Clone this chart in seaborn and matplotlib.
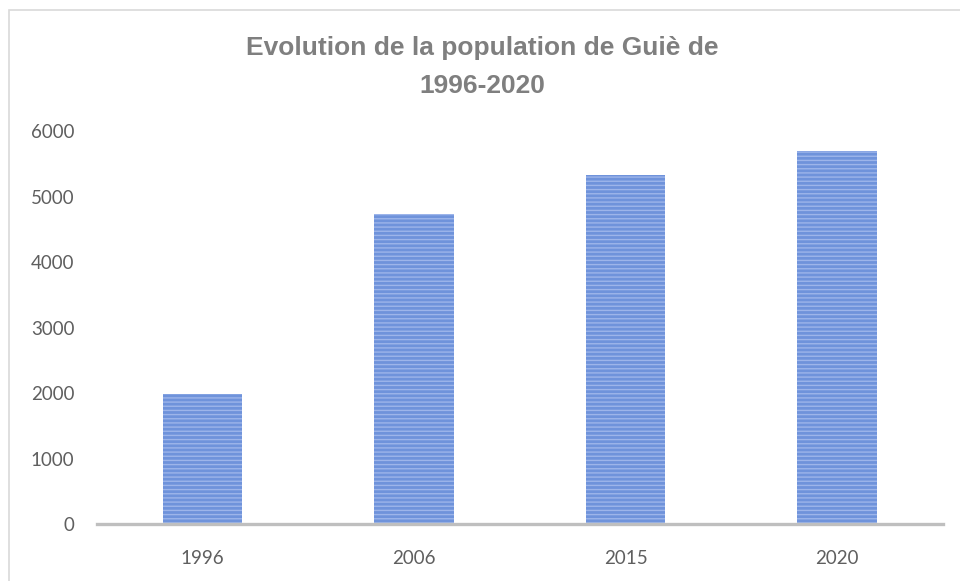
import matplotlib
matplotlib.use("Agg")
import matplotlib.pyplot as plt
import seaborn as sns
import pandas as pd
from matplotlib.patches import Rectangle

years = ["1996", "2006", "2015", "2020"]
population = [1985, 4730, 5330, 5690]
yticks = [0, 1000, 2000, 3000, 4000, 5000, 6000]
title = "Evolution de la population de Guiè de\n1996-2020"

sns.set_theme(style="white")
plt.rcParams["hatch.linewidth"] = 1.0

df = pd.DataFrame({"year": years, "population": population})

fig = plt.figure(figsize=(9.6, 5.81), dpi=100)
ax = fig.add_axes([0.1008, 0.0981, 0.8812, 0.6764])

sns.barplot(data=df, x="year", y="population", color="#6F93DB",
            width=0.375, saturation=1, ax=ax)
for p in ax.patches:
    p.set_hatch("----")
    p.set_edgecolor("#9DB5EA")
    p.set_linewidth(0)

ax.set_ylim(0, 6000)
ax.set_xlim(-0.5, 3.5)
ax.set_yticks(yticks)
ax.set_yticklabels([str(v) for v in yticks])
ax.set_xlabel("")
ax.set_ylabel("")
ax.grid(False)
for s in ["top", "right", "left"]:
    ax.spines[s].set_visible(False)
ax.spines["bottom"].set_color("#BFBFBF")
ax.spines["bottom"].set_linewidth(2.4)
ax.tick_params(axis="y", length=0, pad=16, labelsize=13.5, labelcolor="#595959")
ax.tick_params(axis="x", length=0, pad=19, labelsize=13.5, labelcolor="#595959")
for lab in ax.get_xticklabels() + ax.get_yticklabels():
    lab.set_fontfamily("Lato")
    lab.set_fontweight("normal")
    lab.set_color("#5F5F5F")

fig.text(0.502, 1 - 36 / 581, title, ha="center", va="top", fontsize=19,
         fontweight="bold", color="#7F7F7F", family="Liberation Sans",
         linespacing=1.75)

fig.patches.append(Rectangle((9 / 960, -0.1), 1.2, 1 - 10 / 581 + 0.1,
                             transform=fig.transFigure, fill=False,
                             edgecolor="#D9D9D9", linewidth=1.2))

fig.savefig("out.png", dpi=100, facecolor="white")
